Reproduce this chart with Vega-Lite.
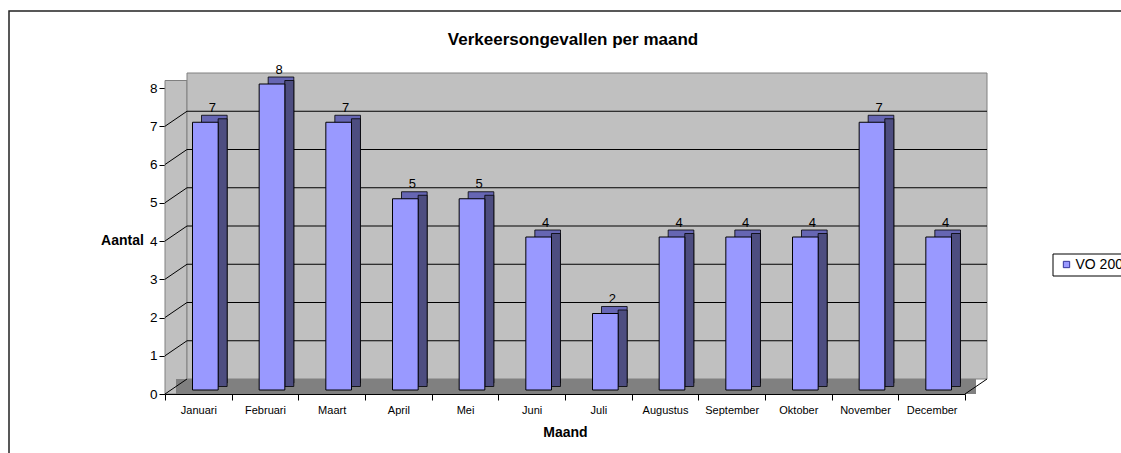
{
  "$schema": "https://vega.github.io/schema/vega-lite/v6.json",
  "width": 1122,
  "height": 452,
  "autosize": "none",
  "padding": {"left": 9, "top": 11, "right": -10, "bottom": -10},
  "background": "white",
  "config": {
    "font": "Liberation Sans",
    "view": {"stroke": "#222222", "strokeWidth": 1.5, "fill": "white"}
  },
  "title": {
    "text": "Verkeersongevallen per maand",
    "fontSize": 17,
    "fontWeight": "bold",
    "color": "black",
    "anchor": "middle",
    "frame": "group",
    "offset": 0,
    "dy": 51,
    "dx": 3,
    "baseline": "alphabetic"
  },
  "datasets": {
    "maanden": [
      {"maand": "Januari", "aantal": 7, "reeks": "VO 2007"},
      {"maand": "Februari", "aantal": 8, "reeks": "VO 2007"},
      {"maand": "Maart", "aantal": 7, "reeks": "VO 2007"},
      {"maand": "April", "aantal": 5, "reeks": "VO 2007"},
      {"maand": "Mei", "aantal": 5, "reeks": "VO 2007"},
      {"maand": "Juni", "aantal": 4, "reeks": "VO 2007"},
      {"maand": "Juli", "aantal": 2, "reeks": "VO 2007"},
      {"maand": "Augustus", "aantal": 4, "reeks": "VO 2007"},
      {"maand": "September", "aantal": 4, "reeks": "VO 2007"},
      {"maand": "Oktober", "aantal": 4, "reeks": "VO 2007"},
      {"maand": "November", "aantal": 7, "reeks": "VO 2007"},
      {"maand": "December", "aantal": 4, "reeks": "VO 2007"}
    ],
    "raster": [{"v": 1}, {"v": 2}, {"v": 3}, {"v": 4}, {"v": 5}, {"v": 6}, {"v": 7}],
    "diagonalen": [{"v": 0}, {"v": 1}, {"v": 2}, {"v": 3}, {"v": 4}, {"v": 5}, {"v": 6}, {"v": 7}],
    "vlak": [{"van": "Januari", "tot": "December", "onder": 0, "boven": 8}]
  },
  "encoding": {
    "x": {
      "field": "maand",
      "type": "nominal",
      "sort": null,
      "scale": {
        "domain": ["Januari", "Februari", "Maart", "April", "Mei", "Juni", "Juli", "Augustus", "September", "Oktober", "November", "December"],
        "range": [156, 956],
        "paddingInner": 0,
        "paddingOuter": 0
      },
      "axis": {
        "title": "Maand",
        "titleFontSize": 14,
        "titleFontWeight": "bold",
        "titleColor": "black",
        "titlePadding": 10,
        "tickBand": "extent",
        "tickSize": 6,
        "tickColor": "black",
        "domainColor": "black",
        "labelColor": "black",
        "labelFontSize": 11,
        "labelPadding": 4,
        "labelAngle": 0,
        "offset": -69,
        "grid": false
      }
    },
    "y": {
      "field": "aantal",
      "type": "quantitative",
      "scale": {"domain": [0, 8], "range": [383, 77], "nice": false, "zero": true},
      "axis": {
        "title": "Aantal",
        "titleAngle": 0,
        "titleFontSize": 14,
        "titleFontWeight": "bold",
        "titleColor": "black",
        "titleX": -43,
        "titleY": 229,
        "titleAlign": "center",
        "titleBaseline": "middle",
        "values": [0, 1, 2, 3, 4, 5, 6, 7, 8],
        "format": "d",
        "tickSize": 6,
        "tickColor": "black",
        "domainColor": "black",
        "labelColor": "black",
        "labelFontSize": 13.5,
        "labelPadding": 2,
        "offset": -156,
        "grid": false
      }
    }
  },
  "layer": [
    {
      "data": {"name": "vlak"},
      "mark": {"type": "rect", "fill": "#c0c0c0", "stroke": "#808080", "strokeWidth": 1, "x2Offset": 22, "y2Offset": -7.5},
      "encoding": {
        "x": {"field": "van", "type": "nominal", "bandPosition": 0},
        "x2": {"field": "van", "bandPosition": 0},
        "y": {"field": "onder", "type": "quantitative"},
        "y2": {"field": "boven"}
      }
    },
    {
      "data": {"name": "vlak"},
      "mark": {"type": "rect", "fill": "#c0c0c0", "stroke": "#808080", "strokeWidth": 1, "xOffset": 22, "x2Offset": 22, "yOffset": -15, "y2Offset": -15},
      "encoding": {
        "x": {"field": "van", "type": "nominal", "bandPosition": 0},
        "x2": {"field": "tot", "bandPosition": 1},
        "y": {"field": "onder", "type": "quantitative"},
        "y2": {"field": "boven"}
      }
    },
    {
      "data": {"name": "vlak"},
      "mark": {"type": "rect", "fill": "#808080", "xOffset": 11, "x2Offset": 11, "y2Offset": -15},
      "encoding": {
        "x": {"field": "van", "type": "nominal", "bandPosition": 0},
        "x2": {"field": "tot", "bandPosition": 1},
        "y": {"field": "onder", "type": "quantitative"},
        "y2": {"field": "onder"}
      }
    },
    {
      "data": {"name": "raster"},
      "mark": {"type": "rule", "color": "black", "strokeWidth": 1, "xOffset": 22, "x2Offset": 22, "yOffset": -15},
      "encoding": {
        "x": {"datum": "Januari", "type": "nominal", "bandPosition": 0},
        "x2": {"datum": "December", "bandPosition": 1},
        "y": {"field": "v", "type": "quantitative"}
      }
    },
    {
      "data": {"name": "diagonalen"},
      "mark": {"type": "rule", "color": "black", "strokeWidth": 1, "x2Offset": 22, "y2Offset": -15},
      "encoding": {
        "x": {"datum": "Januari", "type": "nominal", "bandPosition": 0},
        "x2": {"datum": "Januari", "bandPosition": 0},
        "y": {"field": "v", "type": "quantitative"},
        "y2": {"field": "v"}
      }
    },
    {
      "data": {"name": "vlak"},
      "mark": {"type": "rule", "color": "black", "strokeWidth": 1, "x2Offset": 22, "y2Offset": -15},
      "encoding": {
        "x": {"field": "tot", "type": "nominal", "bandPosition": 1},
        "x2": {"field": "tot", "bandPosition": 1},
        "y": {"field": "onder", "type": "quantitative"},
        "y2": {"field": "onder"}
      }
    },
    {
      "data": {"name": "maanden"},
      "mark": {"type": "bar", "fill": "#6666b3", "stroke": "black", "strokeWidth": 0.8, "width": {"band": 0.385}, "xOffset": 16, "yOffset": -11, "y2Offset": -11},
      "encoding": {}
    },
    {
      "data": {"name": "maanden"},
      "mark": {"type": "bar", "fill": "#4d4d80", "stroke": "black", "strokeWidth": 0.8, "width": {"band": 0.135}, "xOffset": 24.3, "yOffset": -7.5, "y2Offset": -7.5},
      "encoding": {}
    },
    {
      "data": {"name": "maanden"},
      "mark": {"type": "bar", "stroke": "black", "strokeWidth": 1, "width": {"band": 0.385}, "xOffset": 7, "yOffset": -4, "y2Offset": -4},
      "encoding": {
        "color": {
          "field": "reeks",
          "type": "nominal",
          "scale": {"domain": ["VO 2007"], "range": ["#9999ff"]},
          "legend": {
            "title": null,
            "orient": "none",
            "legendX": 1043.5,
            "legendY": 242.5,
            "strokeColor": "black",
            "fillColor": "white",
            "padding": 4,
            "symbolType": "square",
            "symbolSize": 40,
            "symbolOffset": 3,
            "symbolStrokeColor": "#333399",
            "symbolStrokeWidth": 1,
            "labelFontSize": 14,
            "labelColor": "black",
            "labelOffset": 2
          }
        }
      }
    },
    {
      "data": {"name": "maanden"},
      "mark": {"type": "text", "fontSize": 13, "color": "black", "baseline": "middle", "align": "center", "xOffset": 14, "yOffset": -18.5},
      "encoding": {
        "text": {"field": "aantal", "type": "quantitative"}
      }
    }
  ]
}
